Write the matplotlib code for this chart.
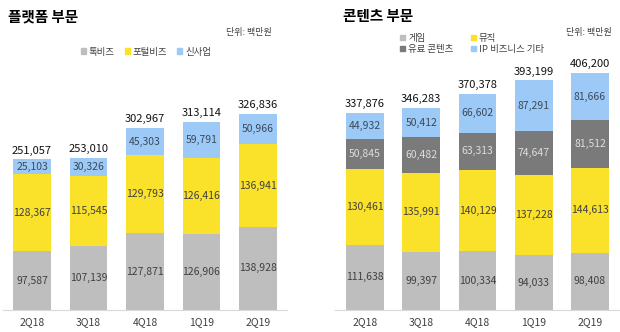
import numpy as np
import matplotlib.pyplot as plt
from matplotlib.patches import Patch

plt.rcParams['font.family'] = ['Noto Sans CJK KR', 'DejaVu Sans']

quarters = ['2Q18', '3Q18', '4Q18', '1Q19', '2Q19']

# 플랫폼 부문
talk_biz = [97587, 107139, 127871, 126906, 138928]
portal_biz = [128367, 115545, 129793, 126416, 136941]
new_biz = [25103, 30326, 45303, 59791, 50966]
platform_total = [251057, 253010, 302967, 313114, 326836]

# 콘텐츠 부문
game = [111638, 99397, 100334, 94033, 98408]
music = [130461, 135991, 140129, 137228, 144613]
paid_content = [50845, 60482, 63313, 74647, 81512]
ip_etc = [44932, 50412, 66602, 87291, 81666]
content_total = [337876, 346283, 370378, 393199, 406200]

c_gray = '#BEBEBE'
c_yellow = '#FAE12A'
c_blue = '#9CC9F5'
c_dark = '#7A7A7A'

W, H = 620, 332
fig = plt.figure(figsize=(W / 100, H / 100), dpi=100)


def stacked(ax, series, colors, txtcols, totals, ymax, xl, xr):
    x = np.arange(len(quarters))
    bottom = np.zeros(len(quarters))
    for vals, col, tc in zip(series, colors, txtcols):
        vals = np.array(vals, dtype=float)
        ax.bar(x, vals, 0.67, bottom=bottom, color=col, zorder=2)
        for xi, b, v in zip(x, bottom, vals):
            ax.text(xi, b + v / 2, f'{int(v):,}', ha='center', va='center',
                    fontsize=7.5, color=tc)
        bottom += vals
    for xi, t in zip(x, totals):
        ax.text(xi, t + ymax * 0.015, f'{t:,}', ha='center', va='bottom',
                fontsize=8, color='#111111')
    ax.set_xlim(xl, xr)
    ax.set_ylim(0, ymax)
    ax.set_xticks(x)
    ax.set_xticklabels(quarters, fontsize=7.5, color='#404040')
    ax.tick_params(axis='x', length=0, pad=5)
    ax.set_yticks([])
    for s in ['top', 'right', 'left']:
        ax.spines[s].set_visible(False)
    ax.spines['bottom'].set_color('#D9D9D9')


# left panel: axes from px 3..287, baseline at y=310
ax1 = fig.add_axes([3 / W, 22 / H, 284 / W, 250 / H])
stacked(ax1, [talk_biz, portal_biz, new_biz], [c_gray, c_yellow, c_blue],
        ['#404040', '#404040', '#3A4A5C'], platform_total,
        250 / 0.0006, -0.513, 4.513)

# right panel: axes from px 335..620
ax2 = fig.add_axes([335 / W, 22 / H, 285 / W, 250 / H])
stacked(ax2, [game, music, paid_content, ip_etc],
        [c_gray, c_yellow, c_dark, c_blue],
        ['#404040', '#404040', '#DDDDDD', '#3A4A5C'], content_total,
        250 / 0.000584, -0.533, 4.533)

fig.text(8 / W, 1 - 17 / H, '플랫폼 부문', fontsize=10.5, fontweight='bold',
         va='center', ha='left')
fig.text(343 / W, 1 - 16 / H, '콘텐츠 부문', fontsize=10.5, fontweight='bold',
         va='center', ha='left')
fig.text(272 / W, 1 - 32 / H, '단위: 백만원', fontsize=6.5, color='#404040',
         va='center', ha='right')
fig.text(612 / W, 1 - 32 / H, '단위: 백만원', fontsize=6.5, color='#404040',
         va='center', ha='right')

h1 = [Patch(color=c) for c in [c_gray, c_yellow, c_blue]]
fig.legend(h1, ['톡비즈', '포털비즈', '신사업'], loc='center',
           bbox_to_anchor=(146 / W, 1 - 52 / H), ncol=3, frameon=False,
           fontsize=6.8, handlelength=0.5, handleheight=0.5, handletextpad=0.3,
           columnspacing=1.1, labelcolor='#404040')

h2 = [Patch(color=c) for c in [c_gray, c_dark, c_yellow, c_blue]]
fig.legend(h2, ['게임', '유료 콘텐츠', '뮤직', 'IP 비즈니스 기타'],
           loc='center left', bbox_to_anchor=(392 / W, 1 - 44 / H), ncol=2,
           frameon=False, fontsize=6.8, handlelength=0.5, handleheight=0.5,
           handletextpad=0.3, columnspacing=1.9, labelspacing=0.2,
           labelcolor='#404040')

fig.savefig('out.png', dpi=100)
